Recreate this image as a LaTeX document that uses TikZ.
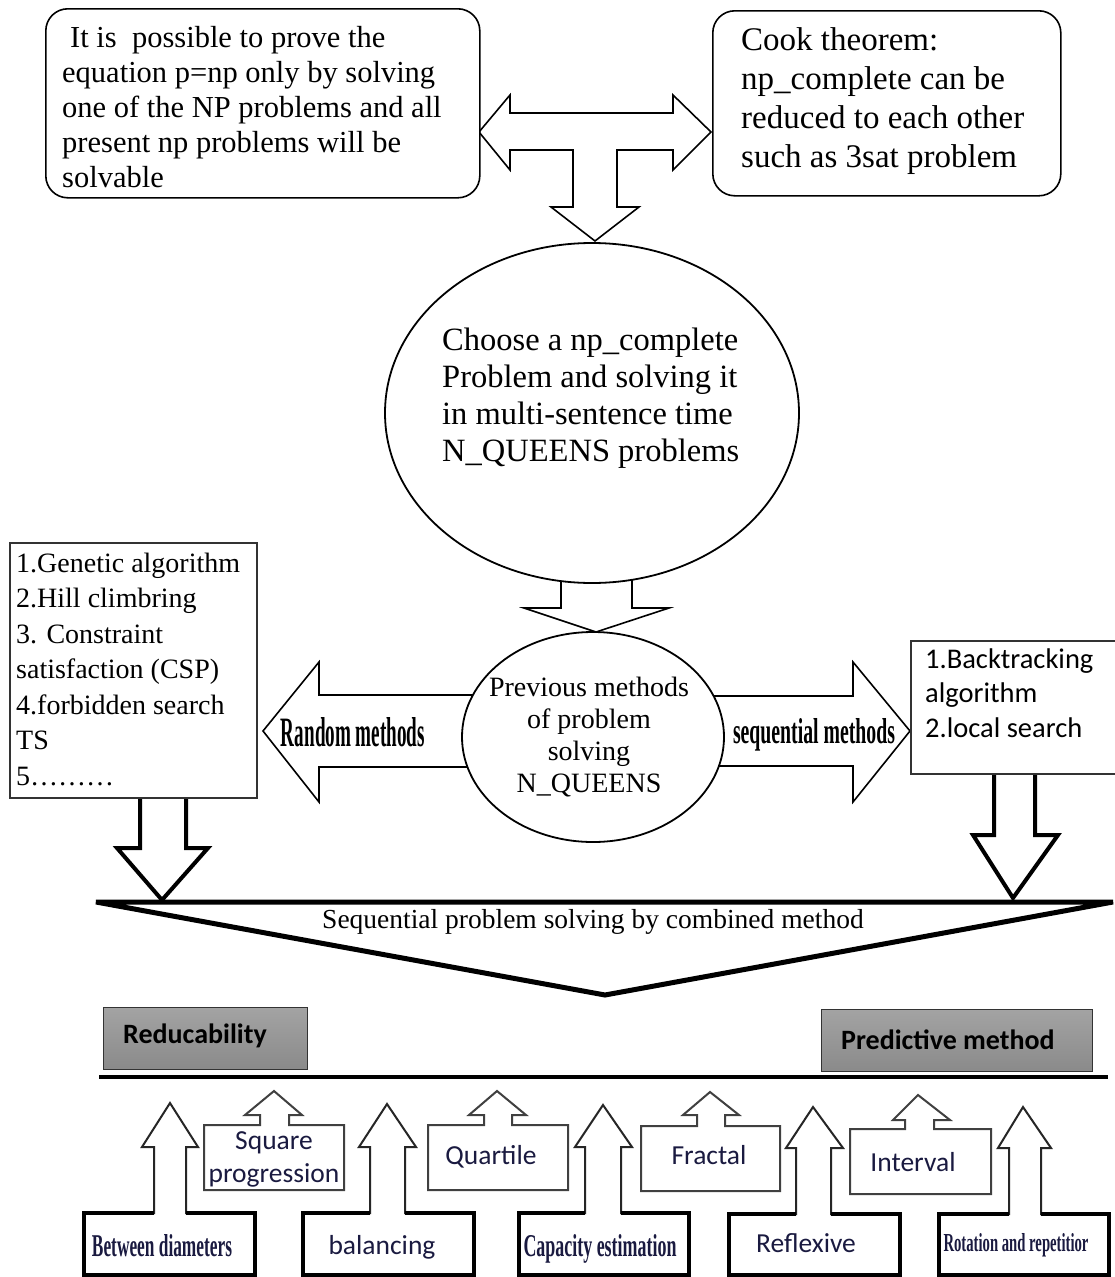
\documentclass[tikz,border=0pt]{standalone}
\usepackage{fontspec}
\setmainfont{Liberation Serif}
\newfontfamily\calfont{Carlito}
\usepackage{graphicx}
\usetikzlibrary{shapes.geometric}
\definecolor{gtop}{HTML}{A3A3A3}
\definecolor{gbot}{HTML}{8A8A8A}
\definecolor{navy}{HTML}{1A1A40}
\definecolor{edge}{HTML}{333333}
\begin{document}
\begin{tikzpicture}[x=1pt,y=-1pt,
  blk/.style={draw=black, line width=1.6pt, fill=white},
  heavy/.style={draw=black, line width=4pt, fill=white},
  txt/.style={inner sep=0pt, align=left},
  smallco/.style={draw=black!75, line width=2pt, fill=white},
  tallco/.style={draw=black!85, line width=2pt, fill=white},
  tallrim/.style={draw=black, line width=3.4pt},
  graybox/.style={draw=edge, line width=1.3pt, top color=gtop, bottom color=gbot},
  serifA/.style={font=\fontsize{30.5}{35}\selectfont},
  serifB/.style={font=\fontsize{33}{39}\selectfont},
  sanslbl/.style={font=\calfont\fontsize{27.5}{33}\selectfont, text=navy, inner sep=0pt, align=center}]
\useasboundingbox (0,0) rectangle (1115,1277);
\fill[white] (0,0) rectangle (1115,1277);

% ---------- block arrows (drawn first) ----------
\draw[blk] (479,132) -- (510,95) -- (510,113) -- (673,113) -- (673,95) -- (711,132)
  -- (673,170) -- (673,150) -- (617,150) -- (617,207) -- (639,207) -- (595,241)
  -- (551,207) -- (573,207) -- (573,150) -- (510,150) -- (510,170) -- cycle;
\draw[blk] (561,575) -- (561,608) -- (524,608) -- (596,632) -- (669,608) -- (632,608) -- (632,575);
\draw[blk] (475,695) -- (319,695) -- (319,662) -- (263,731) -- (319,802) -- (319,767) -- (475,767);
\draw[blk] (710,696) -- (853,696) -- (853,662) -- (910,731) -- (853,802) -- (853,766) -- (710,766);
\draw[heavy] (140,797) -- (140,848) -- (117,848) -- (162,900) -- (208,848) -- (186,848) -- (186,797);
\draw[heavy] (994,773) -- (994,835) -- (973,835) -- (1013,898) -- (1058,835) -- (1035,835) -- (1035,773);

% ---------- top boxes ----------
\node[draw, line width=1.6pt, rounded corners=22pt, fill=white, minimum width=434pt, minimum height=189pt, anchor=north west, inner sep=0pt] (lbox) at (45,8) {};
\node[txt, serifA, anchor=west] (ltext) at (62,107) {\hspace{8pt}It is\ \ possible to prove the\\equation p=np only by solving\\one of the NP problems and all\\present np problems will be\\solvable};
\node[draw, line width=1.6pt, rounded corners=22pt, fill=white, minimum width=348pt, minimum height=185pt, anchor=north west, inner sep=0pt] (rbox) at (712,10) {};
\node[txt, serifB, anchor=west] (rtext) at (741,101) {Cook theorem:\\np\_complete can be\\reduced to each other\\such as 3sat problem};

% ---------- ellipses ----------
\node[ellipse, draw, line width=1.8pt, fill=white, minimum width=414pt, minimum height=340pt, inner sep=0pt] (bigell) at (592,413) {};
\node[txt, anchor=west, font=\fontsize{32.5}{37}\selectfont] (bigtext) at (442,398) {Choose a np\_complete\\Problem and solving it\\in multi-sentence time\\N\_QUEENS problems};
\node[ellipse, draw, line width=1.8pt, fill=white, minimum width=262pt, minimum height=210pt, inner sep=0pt] (smell) at (593,737) {};
\node[inner sep=0pt, align=center, font=\fontsize{28}{32}\selectfont] (smtext) at (589,737) {Previous methods\\of problem\\solving\\N\_QUEENS};

% ---------- arrow labels ----------
\node[inner sep=0pt] (rnd) at (353,732) {\resizebox{144pt}{29pt}{\bfseries Random methods}};
\node[inner sep=0pt] (seq) at (814,735) {\resizebox{162pt}{25pt}{\bfseries sequential methods}};

% ---------- side lists ----------
\node[draw=edge, line width=1.5pt, fill=white, minimum width=247pt, minimum height=255pt, anchor=north west, inner sep=0pt] (lst) at (9,542) {};
\node[txt, anchor=west, font=\fontsize{28}{35.5}\selectfont] (lsttext) at (16,669) {1.Genetic algorithm\\2.Hill climbring\\3. Constraint\\satisfaction (CSP)\\4.forbidden search\\TS\\5\dots\dots\dots};
\node[draw=edge, line width=1.5pt, fill=white, minimum width=212pt, minimum height=133pt, anchor=north west, inner sep=0pt] (rst) at (910,640) {};
\node[txt, anchor=west, font=\calfont\fontsize{28.5}{34.5}\selectfont] (rsttext) at (925,693) {1.Backtracking\\algorithm\\2.local search};

% ---------- funnel ----------
\draw[line width=5pt] (96,902) -- (1113,902) -- (605,995) -- cycle;
\node[inner sep=0pt, font=\fontsize{27.5}{33}\selectfont] (funtext) at (593,922) {Sequential problem solving by combined method};

% ---------- gray boxes ----------
\node[graybox, minimum width=204pt, minimum height=62pt, anchor=north west, inner sep=0pt] (red) at (103,1007) {};
\node[inner sep=0pt, anchor=west, font=\calfont\bfseries\fontsize{28}{33}\selectfont] (redt) at (123,1036) {Reducability};
\node[graybox, minimum width=271pt, minimum height=62pt, anchor=north west, inner sep=0pt] (pred) at (821,1009) {};
\node[inner sep=0pt, anchor=west, font=\calfont\bfseries\fontsize{28}{33}\selectfont] (predt) at (841,1040) {Predictive method};
\draw[line width=3.5pt] (99,1077) -- (1108,1077);

% ---------- bottom callouts: tall ----------
\draw[tallco] (84,1213) -- (154,1213) -- (154,1147) -- (142,1147) -- (170,1103) -- (198,1147) -- (186,1147) -- (186,1213) -- (255,1213) -- (255,1275) -- (84,1275) -- cycle;
\draw[tallrim] (154,1213) -- (84,1213) -- (84,1275) -- (255,1275) -- (255,1213) -- (186,1213);
\draw[tallco] (303,1213) -- (370,1213) -- (370,1147) -- (359,1147) -- (387,1104) -- (416,1147) -- (405,1147) -- (405,1213) -- (474,1213) -- (474,1275) -- (303,1275) -- cycle;
\draw[tallrim] (370,1213) -- (303,1213) -- (303,1275) -- (474,1275) -- (474,1213) -- (405,1213);
\draw[tallco] (519,1213) -- (585,1213) -- (585,1147) -- (575,1147) -- (603,1105) -- (632,1147) -- (621,1147) -- (621,1213) -- (689,1213) -- (689,1275) -- (519,1275) -- cycle;
\draw[tallrim] (585,1213) -- (519,1213) -- (519,1275) -- (689,1275) -- (689,1213) -- (621,1213);
\draw[tallco] (729,1214) -- (796,1214) -- (796,1148) -- (786,1148) -- (813,1107) -- (843,1148) -- (831,1148) -- (831,1214) -- (900,1214) -- (900,1275) -- (729,1275) -- cycle;
\draw[tallrim] (796,1214) -- (729,1214) -- (729,1275) -- (900,1275) -- (900,1214) -- (831,1214);
\draw[tallco] (939,1214) -- (1009,1214) -- (1009,1148) -- (998,1148) -- (1023,1107) -- (1051,1148) -- (1041,1148) -- (1041,1214) -- (1109,1214) -- (1109,1275) -- (939,1275) -- cycle;
\draw[tallrim] (1009,1214) -- (939,1214) -- (939,1275) -- (1109,1275) -- (1109,1214) -- (1041,1214);

% ---------- bottom callouts: small ----------
\draw[smallco] (204,1125) -- (260,1125) -- (260,1115) -- (245,1115) -- (274,1091) -- (302,1115) -- (289,1115) -- (289,1125) -- (344,1125) -- (344,1190) -- (204,1190) -- cycle;
\draw[smallco] (428,1125) -- (484,1125) -- (484,1115) -- (469,1115) -- (497,1091) -- (526,1115) -- (512,1115) -- (512,1125) -- (568,1125) -- (568,1190) -- (428,1190) -- cycle;
\draw[smallco] (641,1126) -- (697,1126) -- (697,1115) -- (683,1115) -- (710,1092) -- (739,1115) -- (725,1115) -- (725,1126) -- (780,1126) -- (780,1191) -- (641,1191) -- cycle;
\draw[smallco] (850,1129) -- (905,1129) -- (905,1120) -- (893,1120) -- (918,1095) -- (950,1120) -- (934,1120) -- (934,1129) -- (991,1129) -- (991,1194) -- (850,1194) -- cycle;

% ---------- bottom labels ----------
\node[inner sep=0pt, text=navy] (betw) at (162,1246) {\resizebox{140pt}{22pt}{\bfseries Between diameters}};
\node[sanslbl] (bal) at (382,1247) {balancing};
\node[inner sep=0pt, text=navy] (cap) at (600,1249) {\resizebox{153pt}{22pt}{\bfseries Capacity estimation}};
\node[sanslbl] (refl) at (806,1243) {Reflexive};
\node[inner sep=0pt, text=navy] (rot) at (1016,1245) {\resizebox{145pt}{18pt}{\bfseries Rotation and repetitior}};
\node[sanslbl] (sq) at (274,1159) {Square\\progression};
\node[sanslbl] (quart) at (491,1157) {Quartile};
\node[sanslbl] (frac) at (709,1155) {Fractal};
\node[sanslbl] (intv) at (913,1162) {Interval};
\end{tikzpicture}
\end{document}
